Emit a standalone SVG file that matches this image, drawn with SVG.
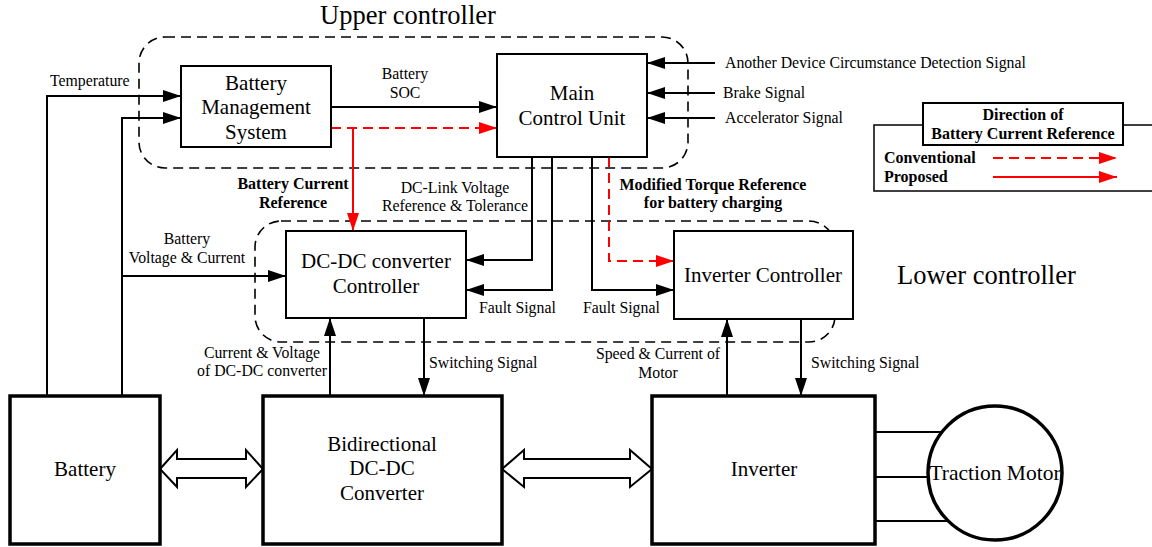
<svg xmlns="http://www.w3.org/2000/svg" width="1152" height="547" viewBox="0 0 1152 547" font-family="'Liberation Serif', 'Times New Roman', 'DejaVu Serif', serif">
<style>
text{font-family:'Liberation Serif','Times New Roman','DejaVu Serif',serif;fill:#000}
.big{font-size:26.5px}
.node{font-size:21px;text-anchor:middle}
.bot{font-size:21px;text-anchor:middle}
.lbl{font-size:15.8px}
.c{text-anchor:middle}
.b{font-weight:bold;font-size:16px}
.box{fill:#fff;stroke:#000;stroke-width:2}
.tbox{fill:#fff;stroke:#000;stroke-width:3.5}
.grp{fill:none;stroke:#000;stroke-width:1.6;stroke-dasharray:10 6}
.ln{fill:none;stroke:#000;stroke-width:2}
.ar{fill:none;stroke:#000;stroke-width:2;marker-end:url(#ah)}
.red{fill:none;stroke:#f00;stroke-width:2;marker-end:url(#rh)}
.rd{stroke-dasharray:10 6}
.dbl{fill:#fff;stroke:#000;stroke-width:2}
</style>
<defs>
<marker id="ah" markerUnits="userSpaceOnUse" markerWidth="18" markerHeight="14" refX="18" refY="7" orient="auto"><path d="M0,1 L18,7 L0,13 Z" fill="#000"/></marker>
<marker id="rh" markerUnits="userSpaceOnUse" markerWidth="18" markerHeight="14" refX="18" refY="7" orient="auto"><path d="M0,1 L18,7 L0,13 Z" fill="#f00"/></marker>
</defs>

<g id="upper-controller">
<rect class="grp" x="139" y="37" width="549" height="131" rx="26"/>
<text class="big" x="320" y="24">Upper controller</text>
</g>
<g id="lower-controller">
<rect class="grp" x="255" y="221" width="580" height="121" rx="26"/>
<text class="big" x="897" y="284">Lower controller</text>
</g>

<g id="connectors">
<polyline class="ar" points="47,396 47,96 181,96"/>
<polyline class="ar" points="122,396 122,118 181,118"/>
<polyline class="ar" points="122,276 286,276"/>
<polyline class="ar" points="331,107 497,107"/>
<polyline class="red rd" points="331,128 497,128"/>
<polyline class="red" points="353,128 353,231"/>
<polyline class="ar" points="715,63 647,63"/>
<polyline class="ar" points="715,93 647,93"/>
<polyline class="ar" points="715,118 647,118"/>
<polyline class="ar" points="532,157 532,260 466,260"/>
<polyline class="ar" points="552,157 552,290 466,290"/>
<polyline class="ar" points="592,157 592,290 674,290"/>
<polyline class="red rd" points="609,157 609,261 674,261"/>
<polyline class="ar" points="330,396 330,318"/>
<polyline class="ar" points="424,318 424,396"/>
<polyline class="ar" points="727,396 727,319"/>
<polyline class="ar" points="801,319 801,396"/>
<polygon class="dbl" points="160,469 177,450 177,459 246,459 246,450 263,469 246,487 246,478 177,478 177,487"/>
<polygon class="dbl" points="502,469 524,450 524,459 630,459 630,450 652,469 630,487 630,478 524,478 524,487"/>
<line class="ln" x1="875" y1="432" x2="960" y2="432"/>
<line class="ln" x1="875" y1="477" x2="960" y2="477"/>
<line class="ln" x1="875" y1="521" x2="960" y2="521"/>
</g>

<g id="labels">
<text class="lbl" x="50" y="86">Temperature</text>
<text class="lbl c" x="405" y="79">Battery</text>
<text class="lbl c" x="405" y="98">SOC</text>
<text class="lbl" x="725" y="68">Another Device Circumstance Detection Signal</text>
<text class="lbl" x="723" y="98">Brake Signal</text>
<text class="lbl" x="725" y="123">Accelerator Signal</text>
<text class="lbl c b" x="293" y="189">Battery Current</text>
<text class="lbl c b" x="293" y="208">Reference</text>
<text class="lbl c" x="455" y="193">DC-Link Voltage</text>
<text class="lbl c" x="455" y="211">Reference &amp; Tolerance</text>
<text class="lbl c b" x="713" y="190">Modified Torque Reference</text>
<text class="lbl c b" x="713" y="208">for battery charging</text>
<text class="lbl c" x="187" y="244">Battery</text>
<text class="lbl c" x="187" y="263">Voltage &amp; Current</text>
<text class="lbl" x="479" y="313">Fault Signal</text>
<text class="lbl" x="583" y="313">Fault Signal</text>
<text class="lbl c" x="262" y="358">Current &amp; Voltage</text>
<text class="lbl c" x="262" y="376">of DC-DC converter</text>
<text class="lbl" x="429" y="368">Switching Signal</text>
<text class="lbl c" x="658" y="359">Speed &amp; Current of</text>
<text class="lbl c" x="658" y="378">Motor</text>
<text class="lbl" x="811" y="368">Switching Signal</text>
</g>

<g id="legend">
<rect x="874" y="125" width="290" height="66" fill="none" stroke="#000" stroke-width="1.5"/>
<rect x="923" y="103" width="200" height="42" fill="#fff" stroke="#000" stroke-width="2"/>
<text class="lbl c b" x="1023" y="120">Direction of</text>
<text class="lbl c b" x="1023" y="139">Battery Current Reference</text>
<text class="lbl b" x="884" y="163">Conventional</text>
<text class="lbl b" x="884" y="182">Proposed</text>
<line class="red rd" x1="993" y1="158" x2="1117" y2="158"/>
<line class="red" x1="993" y1="177" x2="1117" y2="177"/>
</g>

<g id="bms">
<rect class="box" x="181" y="66" width="150" height="81"/>
<text class="node" x="256" y="90">Battery</text>
<text class="node" x="256" y="114">Management</text>
<text class="node" x="256" y="139">System</text>
</g>
<g id="mcu">
<rect class="box" x="497" y="54" width="150" height="103"/>
<text class="node" x="572" y="100">Main</text>
<text class="node" x="572" y="125">Control Unit</text>
</g>
<g id="dcdc-controller">
<rect class="box" x="286" y="231" width="180" height="87"/>
<text class="node" x="376" y="268">DC-DC converter</text>
<text class="node" x="376" y="293">Controller</text>
</g>
<g id="inverter-controller">
<rect class="box" x="674" y="231" width="179" height="88"/>
<text class="node" x="763" y="282">Inverter Controller</text>
</g>
<g id="battery">
<rect class="tbox" x="10" y="396" width="150" height="148"/>
<text class="bot" x="85" y="476">Battery</text>
</g>
<g id="dcdc-converter">
<rect class="tbox" x="263" y="396" width="239" height="148"/>
<text class="bot" x="382" y="451">Bidirectional</text>
<text class="bot" x="382" y="475">DC-DC</text>
<text class="bot" x="382" y="500">Converter</text>
</g>
<g id="inverter">
<rect class="tbox" x="652" y="396" width="223" height="148"/>
<text class="bot" x="764" y="476">Inverter</text>
</g>
<g id="motor">
<circle cx="995" cy="473" r="67" fill="#fff" stroke="#000" stroke-width="3.5"/>
<text class="bot" x="995" y="480" style="font-size:21.5px">Traction Motor</text>
</g>
</svg>
